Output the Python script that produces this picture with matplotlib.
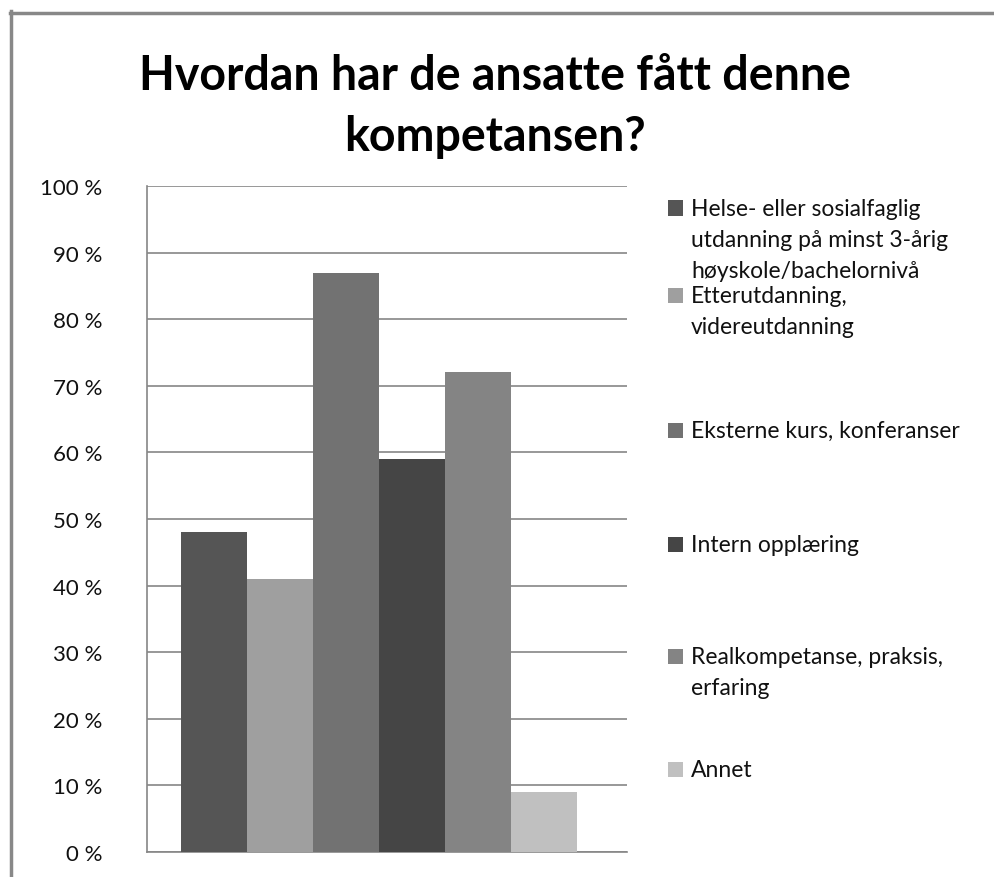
import matplotlib
matplotlib.use("Agg")
import matplotlib.pyplot as plt
from matplotlib.patches import Rectangle
from matplotlib.lines import Line2D
from matplotlib.ticker import FixedLocator, FixedFormatter

plt.rcParams['font.family'] = ['Lato', 'DejaVu Sans']

title_lines = ["Hvordan har de ansatte fått denne", "kompetansen?"]
series = [
    "Helse- eller sosialfaglig\nutdanning på minst 3-årig\nhøyskole/bachelornivå",
    "Etterutdanning,\nvidereutdanning",
    "Eksterne kurs, konferanser",
    "Intern opplæring",
    "Realkompetanse, praksis,\nerfaring",
    "Annet",
]
values = [48, 41, 87, 59, 72, 9]
colors = ["#555555", "#9f9f9f", "#727272", "#454545", "#848484", "#c0c0c0"]
yticks = [0, 10, 20, 30, 40, 50, 60, 70, 80, 90, 100]
yticklabels = [f"{t} %" for t in yticks]

W, H = 994, 878
fig = plt.figure(figsize=(W / 100, H / 100), dpi=100)
fig.patch.set_facecolor("white")

# axes placement in pixels
ax_l, ax_r, ax_t, ax_b = 147, 627, 187, 853
ax = fig.add_axes([ax_l / W, 1 - ax_b / H, (ax_r - ax_l) / W, (ax_b - ax_t) / H])

xs = list(range(len(values)))
ax.bar(xs, values, width=1.0, color=colors, edgecolor="none", zorder=3)

bar_px = (576 - 181) / 6.0
ax.set_xlim(-0.5 - 34 / bar_px, len(values) - 0.5 + 50 / bar_px)
ax.set_ylim(0, 100)
ax.yaxis.set_major_locator(FixedLocator(yticks))
ax.yaxis.set_major_formatter(FixedFormatter(yticklabels))
ax.set_xticks([])
ax.tick_params(axis="y", length=0, pad=32, labelsize=16, labelcolor="#111111")
ax.grid(axis="y", color="#868686", linewidth=1.2, zorder=0)
for s in ["top", "right"]:
    ax.spines[s].set_visible(False)
for s in ["left", "bottom"]:
    ax.spines[s].set_color("#868686")
    ax.spines[s].set_linewidth(1.2)

# title (two lines, baselines in pixels)
for line, base in zip(title_lines, [90, 151]):
    fig.text(495 / W, 1 - base / H, line, ha="center", va="baseline",
             fontsize=33.5, fontweight="bold", color="#000000")

# legend (manual, Excel-like layout)
leg_centers = [209, 296, 431, 545, 657, 770]
line_step = 31
for lab, col, yc in zip(series, colors, leg_centers):
    fig.add_artist(Rectangle((668 / W, 1 - (yc + 7.5) / H), 15 / W, 15 / H,
                             transform=fig.transFigure, facecolor=col,
                             edgecolor="none"))
    for k, ln in enumerate(lab.split("\n")):
        fig.text(691 / W, 1 - (yc + 7 + k * line_step) / H, ln, ha="left",
                 va="baseline", fontsize=16.5, color="#111111")

# outer frame (top and left visible)
fig.add_artist(Line2D([10.5 / W, 10.5 / W], [0, 1 - 12 / H],
                      transform=fig.transFigure, color="#888888", linewidth=2.5))
fig.add_artist(Line2D([9.5 / W, 1.0], [1 - 13.5 / H, 1 - 13.5 / H],
                      transform=fig.transFigure, color="#888888", linewidth=2.5))

fig.savefig("out.png", dpi=100)
